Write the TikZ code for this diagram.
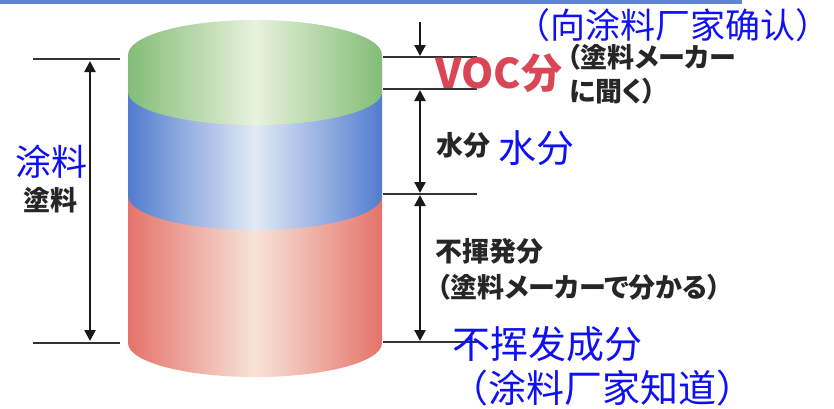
\documentclass[tikz,border=0pt]{standalone}
\usepackage{fontspec}
\usetikzlibrary{arrows.meta}
\newfontfamily\jpfont[RawFeature=+palt]{Noto Sans CJK JP}
\newfontfamily\zhfont{Noto Sans CJK SC}

\definecolor{greenedge}{HTML}{82BD76}
\definecolor{greenmid}{HTML}{E8F2DC}
\definecolor{blueedge}{HTML}{527CCF}
\definecolor{bluemid}{HTML}{E2EAF6}
\definecolor{rededge}{HTML}{E5736A}
\definecolor{redmid}{HTML}{F8E3D8}
\definecolor{vocred}{HTML}{DB4656}
\definecolor{stripblue}{HTML}{5D86CF}
\definecolor{zhblue}{HTML}{1010F5}

\tikzset{
  extline/.style={draw=black!80, line width=1.3pt},
  dimarrow/.style={draw=black!90, line width=2.3pt, arrows={-Triangle[length=11pt,width=11pt]}},
  dimboth/.style={draw=black!90, line width=2.3pt, arrows={Triangle[length=11pt,width=11pt]-Triangle[length=11pt,width=11pt]}},
  jplabel/.style={font=\jpfont\bfseries\fontsize{27}{31}\selectfont, text=black!85, inner sep=0pt},
  zhlabel/.style={font=\zhfont\fontsize{38}{42}\selectfont, text=zhblue, inner sep=0pt},
  greenband/.style={left color=greenedge, right color=greenedge, middle color=greenmid},
  blueband/.style={left color=blueedge, right color=blueedge, middle color=bluemid},
  redband/.style={left color=rededge, right color=rededge, middle color=redmid},
}

\begin{document}
\begin{tikzpicture}[x=1pt, y=1pt]
  \useasboundingbox (0,0) rectangle (834,-408);
  \fill[white] (0,0) rectangle (834,-408);
  \fill[stripblue] (0,0) rectangle (742,-3.5);

  % cylinder: bottom band first, each band covers the top edge of the one below
  \shade[redband] (128,-196) -- (128,-343)
     arc[start angle=180, end angle=360, x radius=127, y radius=34]
     -- (382,-196) -- cycle;
  \shade[blueband] (128,-92) -- (128,-196)
     arc[start angle=180, end angle=360, x radius=127, y radius=34]
     -- (382,-92) -- cycle;
  \shade[greenband] (128,-55) -- (128,-92)
     arc[start angle=180, end angle=360, x radius=127, y radius=33]
     -- (382,-55) -- cycle;
  \shade[greenband] (255,-55) ellipse[x radius=127, y radius=35];

  % total height dimension on the left
  \coordinate (lt1) at (33,-59);   \coordinate (lt2) at (120,-59);
  \coordinate (lb1) at (33,-343);  \coordinate (lb2) at (120,-343);
  \coordinate (la) at (90,-61);    \coordinate (lb) at (90,-341);
  \draw[extline] (lt1) -- (lt2);
  \draw[extline] (lb1) -- (lb2);
  \draw[dimboth] (la) -- (lb);

  % component dimensions on the right
  \coordinate (r1a) at (383,-57);  \coordinate (r1b) at (477,-57);
  \coordinate (r2a) at (383,-89);  \coordinate (r2b) at (477,-89);
  \coordinate (r3a) at (383,-194); \coordinate (r3b) at (477,-194);
  \coordinate (r4a) at (383,-342); \coordinate (r4b) at (477,-342);
  \draw[extline] (r1a) -- (r1b);
  \draw[extline] (r2a) -- (r2b);
  \draw[extline] (r3a) -- (r3b);
  \draw[extline] (r4a) -- (r4b);

  \coordinate (vs) at (420,-22);   \coordinate (ve) at (420,-56);
  \coordinate (ws) at (420,-90);   \coordinate (we) at (420,-193);
  \coordinate (ns) at (420,-195);  \coordinate (ne) at (420,-341);
  \draw[dimarrow] (vs) -- (ve);
  \draw[dimboth] (ws) -- (we);
  \draw[dimboth] (ns) -- (ne);

  % labels
  \node[font=\jpfont\bfseries\fontsize{41}{44}\selectfont, text=vocred, inner sep=0pt]
     (voc) at (499,-73) {VOC分};
  \node[jplabel, anchor=west] (askA) at (567,-57) {（塗料メーカー};
  \node[jplabel, anchor=west] (askB) at (569,-91) {に聞く）};
  \node[jplabel] (water) at (463,-145) {水分};
  \node[jplabel, anchor=west] (nvA) at (435,-251) {不揮発分};
  \node[jplabel, anchor=west] (nvB) at (437,-287) {（塗料メーカーで分かる）};
  \node[jplabel] (paint) at (50,-200) {塗料};

  \node[zhlabel, font=\zhfont\fontsize{35}{38}\selectfont] (zhask) at (673,-25) {（向涂料厂家确认）};
  \node[zhlabel] (zhwater) at (536,-148) {水分};
  \node[zhlabel] (zhnv) at (547,-344) {不挥发成分};
  \node[zhlabel] (zhknow) at (602,-388) {（涂料厂家知道）};
  \node[zhlabel, font=\zhfont\fontsize{36}{40}\selectfont] (zhpaint) at (51,-162) {涂料};
\end{tikzpicture}
\end{document}
